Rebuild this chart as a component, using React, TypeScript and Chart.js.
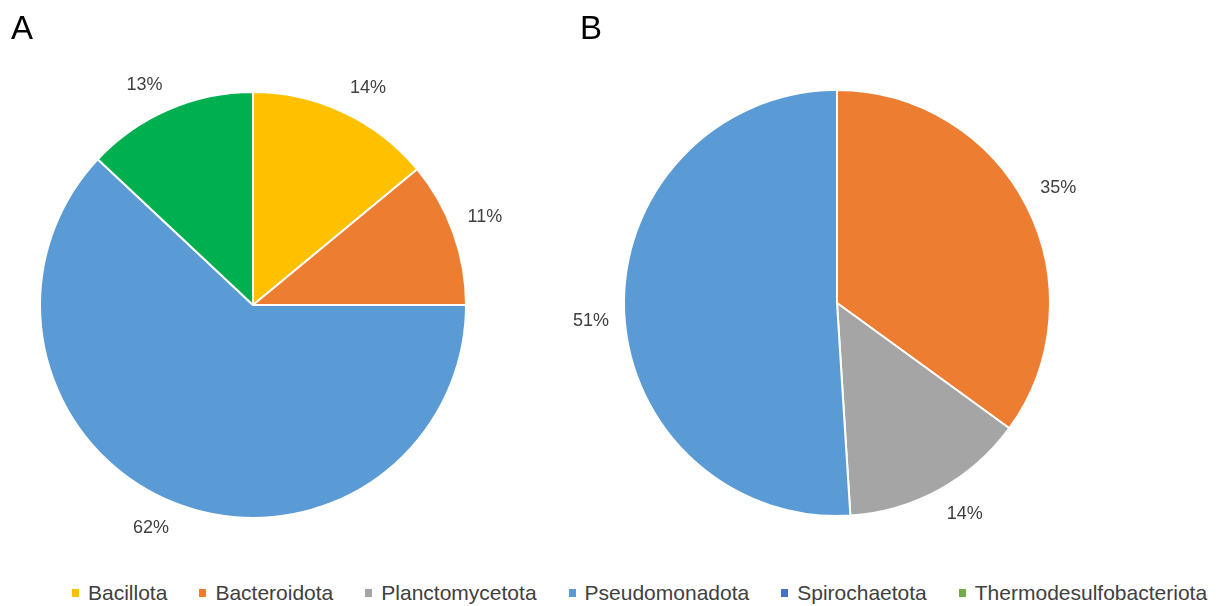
import React, { useEffect, useRef } from "react";
import { Chart, registerables } from "chart.js";

Chart.register(...registerables);

const categories = [
  "Bacillota",
  "Bacteroidota",
  "Planctomycetota",
  "Pseudomonadota",
  "Spirochaetota",
  "Thermodesulfobacteriota",
];
const valuesA = [14, 11, 0, 62, 0, 13];
const valuesB = [0, 35, 14, 51, 0, 0];
const sliceColors = ["#FFC000", "#ED7D31", "#A5A5A5", "#5B9BD5", "#4472C4", "#00B050"];
const legendColors = ["#FFC000", "#ED7D31", "#A5A5A5", "#5B9BD5", "#4472C4", "#70AD47"];
const panelLabels = ["A", "B"];

const FONT = '"Liberation Sans", Arial, sans-serif';
const TEXT_COLOR = "#404040";
const CANVAS = 540;

const outsideLabels = {
  id: "outsideLabels",
  afterDatasetsDraw(chart: any) {
    const ctx = chart.ctx;
    const meta = chart.getDatasetMeta(0);
    const data = chart.data.datasets[0].data as number[];
    ctx.save();
    ctx.font = `18px ${FONT}`;
    ctx.fillStyle = TEXT_COLOR;
    ctx.textAlign = "center";
    ctx.textBaseline = "middle";
    meta.data.forEach((arc: any, i: number) => {
      const v = data[i];
      if (!v) return;
      const p = arc.getProps(["x", "y", "startAngle", "endAngle", "outerRadius"], true);
      const mid = (p.startAngle + p.endAngle) / 2;
      const text = `${v}%`;
      const hw = ctx.measureText(text).width / 2;
      const hh = 11;
      const r = p.outerRadius + 15;
      const c = Math.cos(mid);
      const s = Math.sin(mid);
      const x = p.x + c * r + Math.sign(c) * hw;
      const y = p.y + s * r + Math.sign(s) * hh;
      ctx.fillText(text, x, y);
    });
    ctx.restore();
  },
};

function PieChart({ values, left, top }: { values: number[]; left: number; top: number }) {
  const ref = useRef<HTMLCanvasElement | null>(null);
  useEffect(() => {
    if (!ref.current) return;
    const chart = new Chart(ref.current, {
      type: "pie",
      data: {
        labels: categories,
        datasets: [
          {
            data: values,
            backgroundColor: sliceColors,
            borderColor: "#FFFFFF",
            borderWidth: 2,
          },
        ],
      },
      options: {
        responsive: false,
        animation: false,
        devicePixelRatio: 1,
        layout: { padding: 56 },
        plugins: {
          legend: { display: false },
          tooltip: { enabled: false },
        },
      },
      plugins: [outsideLabels],
    });
    return () => chart.destroy();
  }, [values]);
  return (
    <canvas
      ref={ref}
      width={CANVAS}
      height={CANVAS}
      style={{ position: "absolute", left, top, width: CANVAS, height: CANVAS }}
    />
  );
}

export default function App() {
  useEffect(() => {
    document.body.style.margin = "0";
  }, []);
  return (
    <div
      style={{
        position: "relative",
        width: 1220,
        height: 606,
        background: "#FFFFFF",
        overflow: "hidden",
        fontFamily: FONT,
      }}
    >
      <PieChart values={valuesA} left={-17} top={35} />
      <PieChart values={valuesB} left={567} top={33} />
      <div
        style={{
          position: "absolute",
          left: 11,
          top: 11,
          fontSize: 33,
          lineHeight: "33px",
          color: "#000",
        }}
      >
        {panelLabels[0]}
      </div>
      <div
        style={{
          position: "absolute",
          left: 580,
          top: 11,
          fontSize: 33,
          lineHeight: "33px",
          color: "#000",
        }}
      >
        {panelLabels[1]}
      </div>
      <div
        style={{
          position: "absolute",
          left: 72,
          top: 583,
          height: 20,
          display: "flex",
          justifyContent: "flex-start",
          alignItems: "center",
          fontSize: 21,
          lineHeight: "20px",
          color: TEXT_COLOR,
          whiteSpace: "nowrap",
        }}
      >
        {categories.map((c, i) => (
          <div
            key={c}
            style={{
              display: "flex",
              alignItems: "center",
              marginRight: i < categories.length - 1 ? 32 : 0,
            }}
          >
            <span
              style={{
                display: "inline-block",
                width: 7,
                height: 8,
                background: legendColors[i],
                marginRight: 9,
              }}
            />
            <span>{c}</span>
          </div>
        ))}
      </div>
    </div>
  );
}
